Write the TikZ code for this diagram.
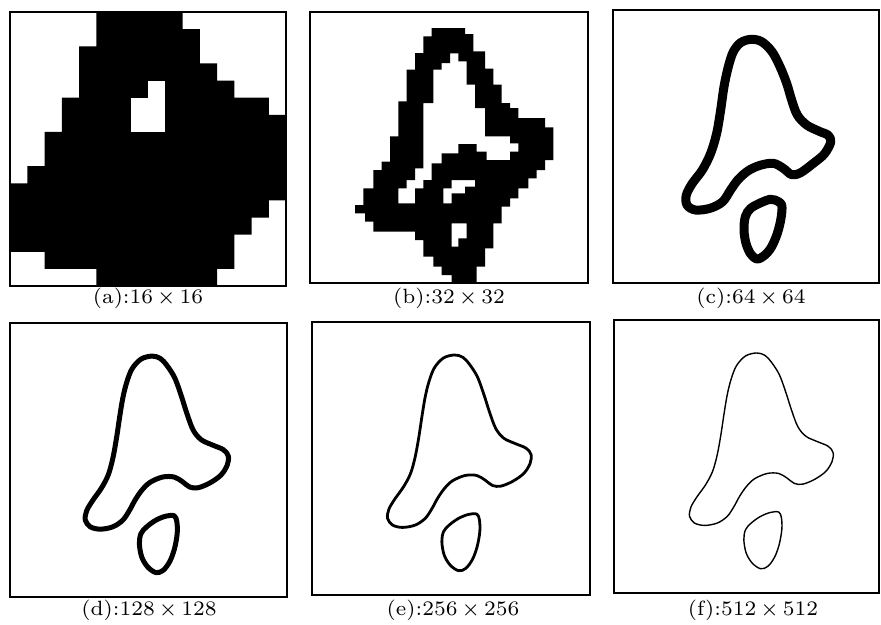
\documentclass[tikz,border=0pt]{standalone}
\usepackage{graphicx}
\tikzset{
  frame/.style={draw=black, line width=1.2pt},
  lab/.style={inner sep=0pt, anchor=center},
  curve/.style={draw=black, line join=round, line cap=round},
}
\newcommand\caplbl[1]{\scalebox{2.95}{\fontsize{7}{8}\selectfont #1}}
\newcommand\tms{\,{\times}\,}
\newcommand\mushshape[1]{%
  \draw[curve, line width=#1] plot[smooth cycle, tension=0.55] coordinates {
    (478,134) (445,143) (418,172) (402,212) (390,260) (380,320) (371,380) (360,440)
    (346,490) (325,530) (300,565) (281,597) (277,625) (292,645) (322,652) (360,645)
    (390,625) (410,596) (427,565) (447,536) (472,512) (510,496) (545,496) (570,510)
    (592,526) (617,528) (652,514) (686,490) (705,460) (708,433) (693,414) (660,400)
    (626,384) (602,355) (583,305) (567,255) (547,200) (523,162) (503,141)};
  \draw[curve, line width=#1] plot[smooth cycle, tension=0.55] coordinates {
    (545,612) (520,613) (490,625) (462,645) (445,665) (440,695) (447,735) (465,765)
    (490,782) (512,775) (532,748) (546,710) (554,665) (553,630)};}
\newcommand\mushpanel[5]{%
  \pgfmathsetmacro\msx{(#3-#1)/835}%
  \pgfmathsetmacro\msy{(#4-#2)/820}%
  \pgfmathsetmacro\mox{#1-50*\msx}%
  \pgfmathsetmacro\moy{#2-35*\msy}%
  \begin{scope}[xshift=\mox pt, yshift=-\moy pt, x=\msx pt, y=-\msy pt]
    \mushshape{#5}
  \end{scope}}
\begin{document}
\begin{tikzpicture}[x=1pt,y=-1pt]
\useasboundingbox (0,0) rectangle (881,624);
\fill[white] (0,0) rectangle (881,624);

% ---------- (a) 16x16 ----------
\fill[black] \foreach \r/\a/\b in {0/5/9,1/5/10,2/4/10,3/4/11,4/4/12,5/3/14,6/3/15,7/2/15,
  8/2/15,9/1/15,10/0/15,11/0/14,12/0/13,13/0/12,14/2/12,15/5/11}
  { ({10+\a*17.25},{12+\r*17.125}) rectangle ({10+(\b+1)*17.25},{12+(\r+1)*17.125}) };
\fill[white] ({10+8*17.25},{12+4*17.125}) rectangle ({10+9*17.25},{12+5*17.125});
\fill[white] ({10+7*17.25},{12+5*17.125}) rectangle ({10+9*17.25},{12+7*17.125});
\draw[frame] (10,12) rectangle (286,286);
\node[lab] (la) at (148,298) {\caplbl{(a):$16\tms16$}};

% ---------- (b) 32x32 ----------
\fill[black, even odd rule]
  (431.7,28) -- (465,28) -- (465,34) -- (473.3,34) -- (473.3,51.3) -- (485,51.3) -- (485,68.7)
  -- (493.3,68.7) -- (493.3,84.7) -- (501.7,84.7) -- (501.7,103) -- (510,103) -- (510,108)
  -- (518.3,108) -- (518.3,118) -- (545,118) -- (545,127.3) -- (553.3,127.3) -- (553.3,160)
  -- (545,160) -- (545,170) -- (536.7,170) -- (536.7,178.3) -- (528.3,178.3) -- (528.3,188.3)
  -- (518.3,188.3) -- (518.3,198.3) -- (510,198.3) -- (510,206.7) -- (501.7,206.7)
  -- (501.7,223.3) -- (493.3,223.3) -- (493.3,248.3) -- (485,248.3) -- (485,266.7)
  -- (476.7,266.7) -- (476.7,283) -- (451.7,283) -- (451.7,275) -- (441.7,275) -- (441.7,266.7)
  -- (433.3,266.7) -- (433.3,256.7) -- (423.3,256.7) -- (423.3,240) -- (415,240) -- (415,231.7)
  -- (373.3,231.7) -- (373.3,221.7) -- (365,221.7) -- (365,213.3) -- (355,213.3) -- (355,205)
  -- (363.3,205) -- (363.3,188.3) -- (373.3,188.3) -- (373.3,170) -- (381.7,170) -- (381.7,161.7)
  -- (390,161.7) -- (390,136.3) -- (398.3,136.3) -- (398.3,101.3) -- (406.7,101.3) -- (406.7,69.7)
  -- (415,69.7) -- (415,53) -- (423.3,53) -- (423.3,36.3) -- (431.7,36.3) -- cycle
  (450,53.3) -- (458.3,53.3) -- (458.3,61.3) -- (466.7,61.3) -- (466.7,84.7) -- (475,84.7)
  -- (475,108) -- (485,108) -- (485,136.3) -- (510,136.3) -- (510,143.3) -- (518.3,143.3)
  -- (518.3,151.7) -- (510,151.7) -- (510,160) -- (486.7,160) -- (486.7,151.7) -- (476.7,151.7)
  -- (476.7,144) -- (458.3,144) -- (458.3,153.3) -- (441.7,153.3) -- (441.7,163.3) -- (431.7,163.3)
  -- (431.7,180) -- (423.3,180) -- (423.3,188.3) -- (415,188.3) -- (415,203.3) -- (398.3,203.3)
  -- (398.3,188.3) -- (406.7,188.3) -- (406.7,180) -- (415,180) -- (415,168.3) -- (423.3,168.3)
  -- (423.3,103) -- (433.3,103) -- (433.3,69.7) -- (441.7,69.7) -- (441.7,63) -- (450,63) -- cycle
  (451.7,180) -- (475,180) -- (475,186.7) -- (465,186.7) -- (465,193.3) -- (451.7,193.3)
  -- (451.7,203.3) -- (443.3,203.3) -- (443.3,188.3) -- (451.7,188.3) -- cycle
  (451.7,223.3) -- (466.7,223.3) -- (466.7,238.3) -- (458.3,238.3) -- (458.3,246.7)
  -- (451.7,246.7) -- cycle;
\draw[frame] (310,12) rectangle (588,283);
\node[lab] (lb) at (449,298) {\caplbl{(b):$32\tms32$}};

% ---------- (c) 64x64 ----------
\begin{scope}[xshift=590pt, x=0.33333pt, y=-0.33333pt]
  \draw[curve, line width=9pt] plot[smooth cycle, tension=0.55] coordinates {
    (483,118) (452,128) (430,155) (415,200) (402,260) (392,330) (380,400) (362,460)
    (337,510) (307,550) (289,585) (291,615) (316,630) (360,625) (398,605) (423,568)
    (445,538) (475,512) (510,496) (550,490) (580,505) (605,524) (632,518) (670,490)
    (703,462) (722,427) (715,406) (688,394) (650,375) (622,345) (605,300) (590,250)
    (570,200) (546,155) (515,125)};
  \draw[curve, line width=9pt] plot[smooth cycle, tension=0.55] coordinates {
    (555,600) (575,615) (573,655) (562,700) (545,740) (525,765) (502,777) (482,762)
    (468,730) (462,690) (466,650) (482,625) (515,607) (540,598)};
\end{scope}
\draw[frame] (613,10) rectangle (879,283);
\node[lab] (lc) at (751,298) {\caplbl{(c):$64\tms64$}};

% ---------- (d) 128x128 ----------
\mushpanel{10}{323}{287}{597}{5pt}
\draw[frame] (10,323) rectangle (287,597);
\node[lab] (ld) at (149,610) {\caplbl{(d):$128\tms128$}};

% ---------- (e) 256x256 ----------
\mushpanel{312}{322}{590}{595}{2.8pt}
\draw[frame] (312,322) rectangle (590,595);
\node[lab] (le) at (453,610) {\caplbl{(e):$256\tms256$}};

% ---------- (f) 512x512 ----------
\mushpanel{614}{320}{892}{593}{1.4pt}
\draw[frame] (614,320) rectangle (879,593);
\node[lab] (lf) at (753,610) {\caplbl{(f):$512\tms512$}};
\end{tikzpicture}
\end{document}
